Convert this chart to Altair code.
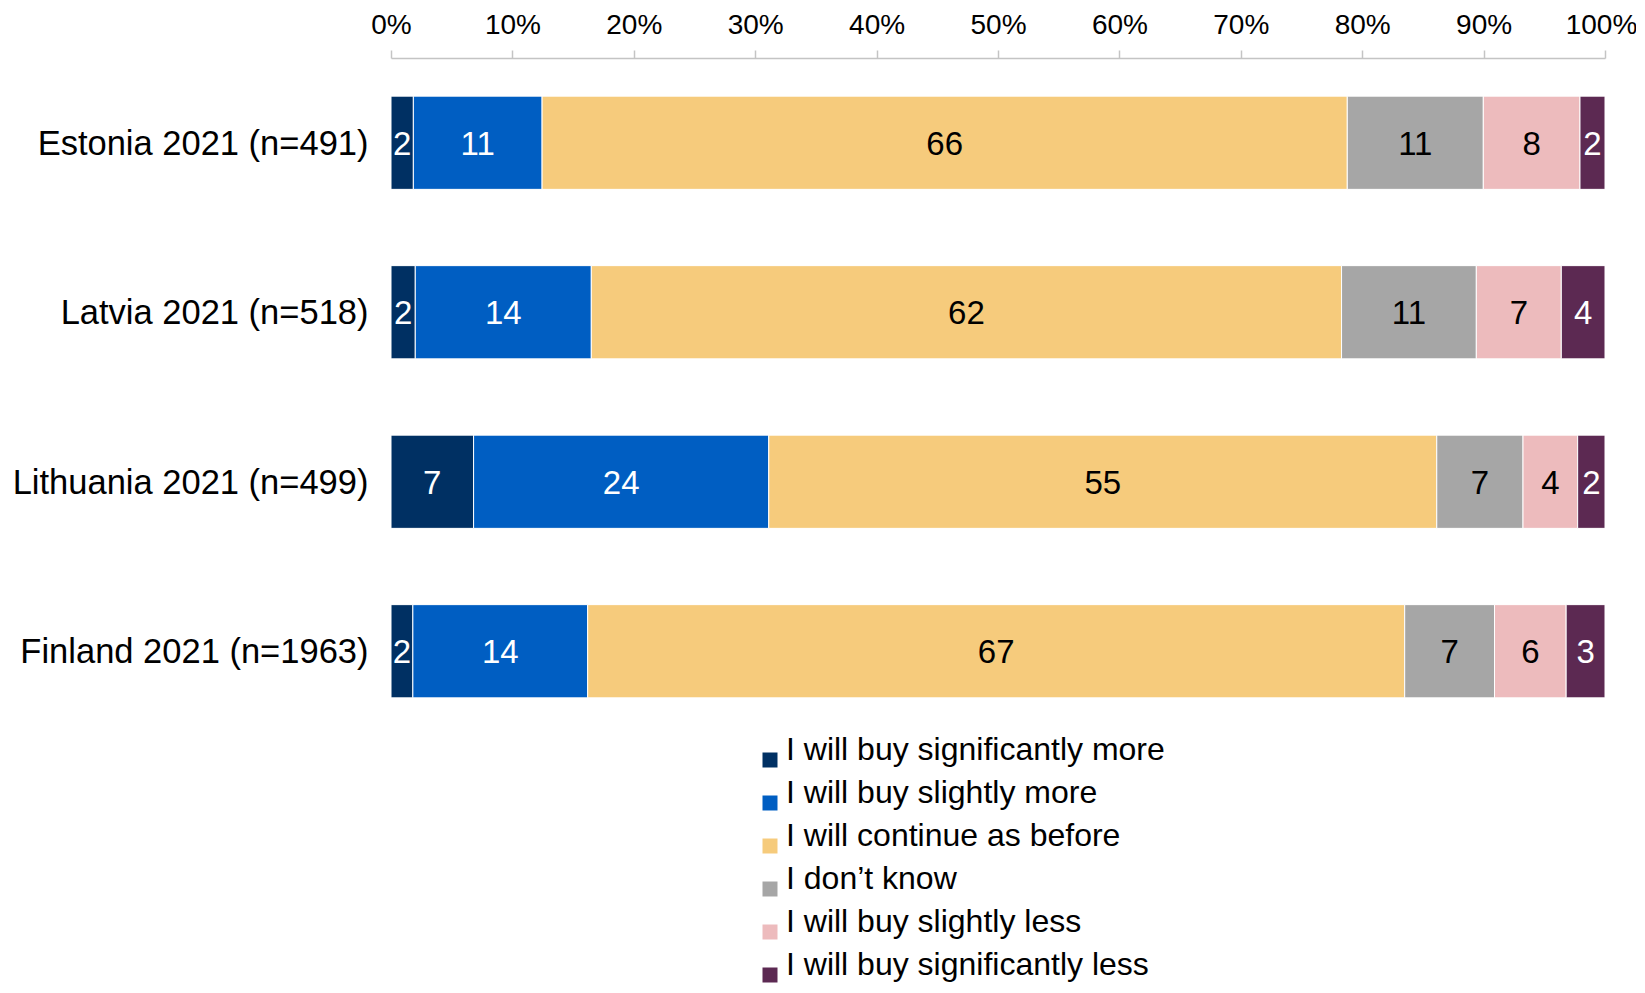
import altair as alt
import pandas as pd

countries = ["Estonia 2021 (n=491)", "Latvia 2021 (n=518)",
             "Lithuania 2021 (n=499)", "Finland 2021 (n=1963)"]
categories = ["I will buy significantly more", "I will buy slightly more",
              "I will continue as before", "I don\u2019t know",
              "I will buy slightly less", "I will buy significantly less"]
colors = ["#003063", "#005EC2", "#F6CB7C", "#A6A6A6", "#EDBBBD", "#5C2952"]

# shares (percent)
estonia = [1.84, 10.6, 66.3, 11.2, 7.96, 2.06]
latvia = [2.0, 14.5, 61.8, 11.1, 7.0, 3.6]
lithuania = [6.8, 24.3, 55.0, 7.1, 4.5, 2.25]
finland = [1.8, 14.4, 67.3, 7.4, 5.9, 3.2]

# labels printed on the bars
estonia_lbl = ["2", "11", "66", "11", "8", "2"]
latvia_lbl = ["2", "14", "62", "11", "7", "4"]
lithuania_lbl = ["7", "24", "55", "7", "4", "2"]
finland_lbl = ["2", "14", "67", "7", "6", "3"]

rows = []
for c, vals, lbls in zip(countries, [estonia, latvia, lithuania, finland],
                         [estonia_lbl, latvia_lbl, lithuania_lbl, finland_lbl]):
    for i, (cat, v, l) in enumerate(zip(categories, vals, lbls)):
        rows.append({"country": c, "category": cat, "order": i, "value": v, "label": l})
df = pd.DataFrame(rows)

FONT = "Liberation Sans"

base = alt.Chart(df).transform_stack(
    stack="value", groupby=["country"], as_=["v0", "v1"],
    offset="normalize", sort=[alt.SortField("order", order="ascending")]
).transform_calculate(mid="(datum.v0 + datum.v1) / 2")

y_enc = alt.Y("country:N", sort=countries, title=None,
              scale=alt.Scale(paddingInner=0.45, paddingOuter=0.225),
              axis=alt.Axis(labelFontSize=34.5, labelPadding=23, ticks=False,
                            domain=False, labelLimit=0, labelColor="black",
                            labelFont=FONT, labelOffset=2))

bars = base.mark_bar(stroke="white", strokeWidth=1).encode(
    x=alt.X("v0:Q", title=None,
            scale=alt.Scale(domain=[0, 1], nice=False),
            axis=alt.Axis(orient="top", format=".0%", values=[i / 10 for i in range(11)],
                          labelFontSize=28, labelColor="black", labelFont=FONT,
                          labelBaseline="alphabetic", labelPadding=17,
                          labelOffset={"condition": {"test": "datum.value >= 1", "value": -4},
                                       "value": 0},
                          tickSize=8, tickColor="#C4C4C4", tickWidth=1.5,
                          domainColor="#C4C4C4", domainWidth=1.5, grid=False,
                          labelFlush=False)),
    x2="v1:Q",
    y=y_enc,
    color=alt.Color("category:N", sort=categories,
                    scale=alt.Scale(domain=categories, range=colors),
                    legend=alt.Legend(title=None, orient="none", legendX=363, legendY=686,
                                      direction="vertical", columns=1,
                                      symbolType="square", symbolSize=225,
                                      symbolStrokeWidth=0, labelFontSize=32,
                                      labelFont=FONT, labelColor="black",
                                      labelBaseline="alphabetic", labelOffset=0,
                                      rowPadding=9, labelLimit=0, padding=0)),
    order=alt.Order("order:Q"),
)

texts = base.mark_text(fontSize=33, font=FONT, baseline="middle", align="center", dy=2).encode(
    x=alt.X("mid:Q"),
    y=alt.Y("country:N", sort=countries),
    text="label:N",
    color=alt.condition(
        alt.FieldOneOfPredicate(field="category",
                                oneOf=[categories[0], categories[1], categories[5]]),
        alt.value("white"), alt.value("black")),
)

chart = alt.layer(bars, texts).properties(
    width=1214, height=678,
    autosize=alt.AutoSizeParams(type="none"),
    padding={"left": 383, "top": 50, "right": 31, "bottom": 249},
).configure(font=FONT).configure_view(stroke=None)

chart.save("out.html", embed_options={"renderer": "svg", "actions": False})
